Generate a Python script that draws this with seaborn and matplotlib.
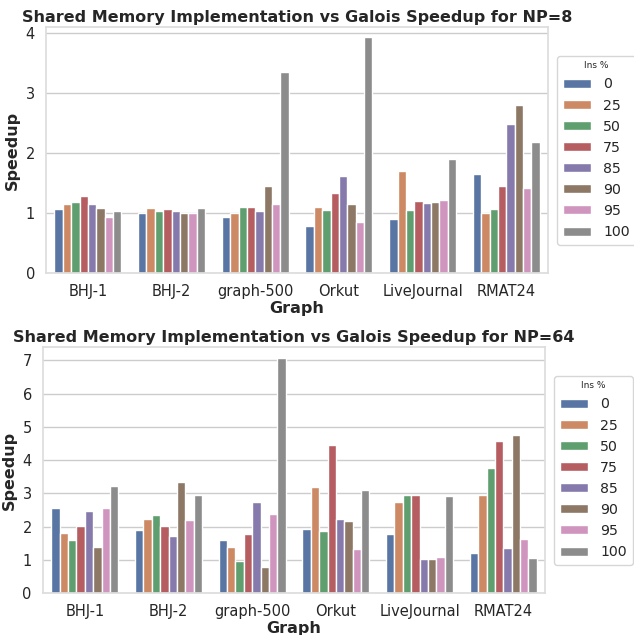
import numpy as np
import pandas as pd
import matplotlib
matplotlib.use("Agg")
import matplotlib.pyplot as plt
import seaborn as sns

graphs = ["BHJ-1", "BHJ-2", "graph-500", "Orkut", "LiveJournal", "RMAT24"]
ins_pct = ["0", "25", "50", "75", "85", "90", "95", "100"]

# rows: graphs, cols: Ins %
speedup_np8 = [
    [1.07, 1.16, 1.18, 1.28, 1.16, 1.09, 0.93, 1.03],
    [1.00, 1.08, 1.04, 1.07, 1.03, 1.00, 1.00, 1.08],
    [0.93, 1.00, 1.11, 1.11, 1.03, 1.46, 1.15, 3.36],
    [0.79, 1.11, 1.05, 1.33, 1.62, 1.15, 0.86, 3.93],
    [0.91, 1.70, 1.05, 1.21, 1.17, 1.18, 1.22, 1.91],
    [1.65, 1.00, 1.07, 1.46, 2.49, 2.80, 1.42, 2.18],
]
speedup_np64 = [
    [2.56, 1.81, 1.61, 2.03, 2.46, 1.38, 2.55, 3.23],
    [1.89, 2.23, 2.36, 2.03, 1.72, 3.35, 2.19, 2.95],
    [1.61, 1.38, 0.97, 1.78, 2.73, 0.78, 2.37, 7.07],
    [1.93, 3.20, 1.86, 4.44, 2.24, 2.18, 1.33, 3.11],
    [1.78, 2.73, 2.96, 2.96, 1.03, 1.03, 1.10, 2.93],
    [1.21, 2.94, 3.75, 4.58, 1.35, 4.76, 1.62, 1.06],
]


def to_df(vals):
    rows = []
    for g, row in zip(graphs, vals):
        for p, v in zip(ins_pct, row):
            rows.append({"Graph": g, "Ins %": p, "Speedup": v})
    return pd.DataFrame(rows)


sns.set_theme(style="whitegrid", palette="deep")
plt.rcParams["font.family"] = ["DejaVu Sans"]

fig = plt.figure(figsize=(6.34, 6.35), dpi=100)
ax1 = fig.add_axes([0.0726, 0.570, 0.792, 0.387])
ax2 = fig.add_axes([0.0678, 0.066, 0.792, 0.387])

for ax, vals, np_ in [(ax1, speedup_np8, 8), (ax2, speedup_np64, 64)]:
    df = to_df(vals)
    sns.barplot(data=df, x="Graph", y="Speedup", hue="Ins %",
                order=graphs, hue_order=ins_pct, ax=ax, width=0.8,
                palette="deep")
    ax.set_title(f"Shared Memory Implementation vs Galois Speedup for NP={np_}",
                 fontsize=11.5, fontweight="bold", pad=4)
    ax.set_xlabel("Graph", fontsize=11.5, fontweight="bold", labelpad=1)
    ax.set_ylabel("Speedup", fontsize=11.5, fontweight="bold", labelpad=4)
    ax.tick_params(axis="both", labelsize=10.5, pad=2)
    for s in ax.spines.values():
        s.set_color("#dddddd")
    leg = ax.legend(title="Ins %", loc="center left", bbox_to_anchor=(1.004, 0.5),
                    fontsize=10.2, title_fontsize=6.5, frameon=True,
                    handlelength=2.0, handleheight=0.6, labelspacing=0.5,
                    borderpad=0.4, handletextpad=0.85, borderaxespad=0.5)

ax1.set_ylim(0, 4.1)
ax1.set_yticks([0, 1, 2, 3, 4])
ax2.set_ylim(0, 7.39)
ax2.set_yticks(range(8))

fig.savefig("out.png", dpi=100)
